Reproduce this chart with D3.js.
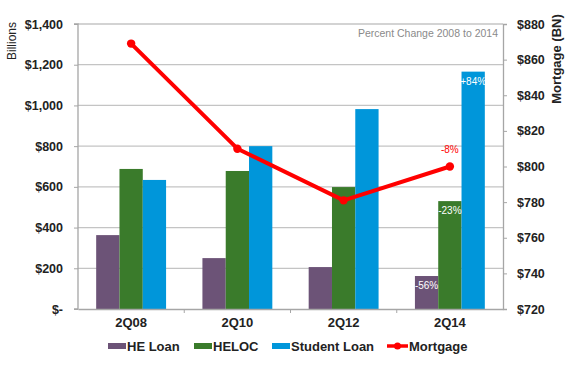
<!DOCTYPE html>
<html>
<head>
<meta charset="utf-8">
<script src="https://cdn.jsdelivr.net/npm/d3@7"></script>
<style>
html,body{margin:0;padding:0;background:#fff;}
svg{display:block;font-family:"Liberation Sans",Arial,sans-serif;}
</style>
</head>
<body>
<svg id="chart" width="572" height="367"></svg>
<script>
const categories = ["2Q08", "2Q10", "2Q12", "2Q14"];
const seriesNames = ["HE Loan", "HELOC", "Student Loan"];
const heLoan = [363, 250, 206, 162];
const heloc = [688, 678, 599, 530];
const studentLoan = [634, 800, 982, 1166];
const mortgage = [869, 810, 781, 800];
const leftTicks = [0, 200, 400, 600, 800, 1000, 1200, 1400];
const leftTickLabels = ["$-", "$200", "$400", "$600", "$800", "$1,000", "$1,200", "$1,400"];
const rightTicks = [720, 740, 760, 780, 800, 820, 840, 860, 880];
const barLabels = ["-56%", "-23%", "+84%"];
const mortgageLabel = "-8%";
const colors = ["#6c5377", "#3a7b2b", "#0096da"];
const lineColor = "#ff0000";

const svg = d3.select("#chart");
const L = 78, R = 503, T = 24, B = 309;

const x0 = d3.scaleBand().domain(categories).range([L, R]).paddingInner(0).paddingOuter(0);
const x1 = d3.scaleBand().domain(seriesNames).range([0, x0.bandwidth()]).paddingInner(0).paddingOuter(0.78);
const yL = d3.scaleLinear().domain([0, 1400]).range([B, T]);
const yR = d3.scaleLinear().domain([720, 880]).range([B, T]);

// gridlines
svg.append("g").selectAll("line").data(leftTicks.filter(d => d > 0)).join("line")
  .attr("x1", L).attr("x2", R).attr("y1", d => yL(d)).attr("y2", d => yL(d))
  .attr("stroke", "#c4c4c4").attr("stroke-width", 1.3);

// bars
const seriesData = [heLoan, heloc, studentLoan];
seriesData.forEach((vals, si) => {
  svg.append("g").selectAll("rect").data(vals).join("rect")
    .attr("x", (d, i) => x0(categories[i]) + x1(seriesNames[si]))
    .attr("y", d => yL(d))
    .attr("width", x1.bandwidth())
    .attr("height", d => yL(0) - yL(d))
    .attr("fill", colors[si]);
});

// left axis
const axL = d3.axisLeft(yL).tickValues(leftTicks).tickFormat((d, i) => leftTickLabels[i]).tickSize(4).tickPadding(11);
const gL = svg.append("g").attr("transform", `translate(${L},0)`).call(axL);
gL.select(".domain").attr("stroke", "#a6a6a6").attr("stroke-width", 1.3).attr("d", `M-4,${T}H0V${B}H-4`);
gL.selectAll(".tick line").attr("stroke", "#a6a6a6");
gL.selectAll("text").attr("font-size", 12.5).attr("font-weight", "bold").attr("fill", "#222").attr("font-family", "Liberation Sans, Arial, sans-serif");

// right axis
const axR = d3.axisRight(yR).tickValues(rightTicks).tickFormat(d => "$" + d).tickSize(4).tickPadding(10);
const gR = svg.append("g").attr("transform", `translate(${R},0)`).call(axR);
gR.select(".domain").attr("stroke", "#a6a6a6").attr("stroke-width", 1.3);
gR.selectAll(".tick line").attr("stroke", "#a6a6a6");
gR.selectAll("text").attr("font-size", 12.5).attr("font-weight", "bold").attr("fill", "#222").attr("font-family", "Liberation Sans, Arial, sans-serif");

// x axis
const axX = d3.axisBottom(x0).tickSize(0).tickPadding(9);
const gX = svg.append("g").attr("transform", `translate(0,${B})`).call(axX);
gX.select(".domain").attr("stroke", "#a6a6a6").attr("stroke-width", 1.3);
gX.selectAll("text").attr("font-size", 13).attr("font-weight", "bold").attr("fill", "#222").attr("font-family", "Liberation Sans, Arial, sans-serif");
gX.selectAll(".sep").data(categories.slice(1)).join("line").attr("class", "sep")
  .attr("x1", d => x0(d)).attr("x2", d => x0(d)).attr("y1", 0).attr("y2", 4)
  .attr("stroke", "#a6a6a6");

// mortgage line
const lineGen = d3.line().x((d, i) => x0(categories[i]) + x0.bandwidth() / 2).y(d => yR(d));
svg.append("path").datum(mortgage).attr("d", lineGen)
  .attr("fill", "none").attr("stroke", lineColor).attr("stroke-width", 4).attr("stroke-linejoin", "round");
svg.append("g").selectAll("circle").data(mortgage).join("circle")
  .attr("cx", (d, i) => x0(categories[i]) + x0.bandwidth() / 2).attr("cy", d => yR(d))
  .attr("r", 4.2).attr("fill", lineColor);

// percentage labels
const last = categories.length - 1;
seriesData.forEach((vals, si) => {
  svg.append("text")
    .attr("x", x0(categories[last]) + x1(seriesNames[si]) + x1.bandwidth() / 2)
    .attr("y", yL(vals[last]) + 13)
    .attr("text-anchor", "middle").attr("font-size", 10).attr("fill", "#fff")
    .attr("font-family", "Liberation Sans Narrow, Liberation Sans, Arial, sans-serif")
    .text(barLabels[si]);
});
svg.append("text")
  .attr("x", x0(categories[last]) + x0.bandwidth() / 2)
  .attr("y", yR(mortgage[last]) - 14)
  .attr("text-anchor", "middle").attr("font-size", 10).attr("fill", lineColor)
  .attr("font-family", "Liberation Sans Narrow, Liberation Sans, Arial, sans-serif")
  .text(mortgageLabel);

// note
svg.append("text").attr("x", 498).attr("y", 37).attr("text-anchor", "end")
  .attr("font-size", 10.5).attr("fill", "#8a8a8a").text("Percent Change 2008 to 2014");

// axis titles
svg.append("text").attr("transform", "translate(16,41) rotate(-90)").attr("text-anchor", "middle")
  .attr("font-size", 12).attr("fill", "#222").text("Billions");
svg.append("text").attr("transform", "translate(561,59) rotate(-90)").attr("text-anchor", "middle")
  .attr("font-size", 13).attr("font-weight", "bold").attr("fill", "#222").text("Mortgage (BN)");

// legend
const legendItems = [
  {name: "HE Loan", x: 108, type: "rect", color: colors[0]},
  {name: "HELOC", x: 194, type: "rect", color: colors[1]},
  {name: "Student Loan", x: 272, type: "rect", color: colors[2]},
  {name: "Mortgage", x: 387, type: "line", color: lineColor}
];
const ly = 346;
const lg = svg.append("g").selectAll("g").data(legendItems).join("g").attr("transform", d => `translate(${d.x},${ly})`);
lg.filter(d => d.type === "rect").append("rect").attr("x", 0).attr("y", -3).attr("width", 18).attr("height", 6).attr("fill", d => d.color);
lg.filter(d => d.type === "line").append("line").attr("x1", 0).attr("x2", 21).attr("y1", 0).attr("y2", 0).attr("stroke", d => d.color).attr("stroke-width", 3.5);
lg.filter(d => d.type === "line").append("circle").attr("cx", 10.5).attr("cy", 0).attr("r", 3.5).attr("fill", d => d.color);
lg.append("text").attr("x", d => d.type === "line" ? 22 : 19).attr("y", 0).attr("dy", "0.36em")
  .attr("font-size", 13).attr("font-weight", "bold").attr("fill", "#222").text(d => d.name);
</script>
</body>
</html>
